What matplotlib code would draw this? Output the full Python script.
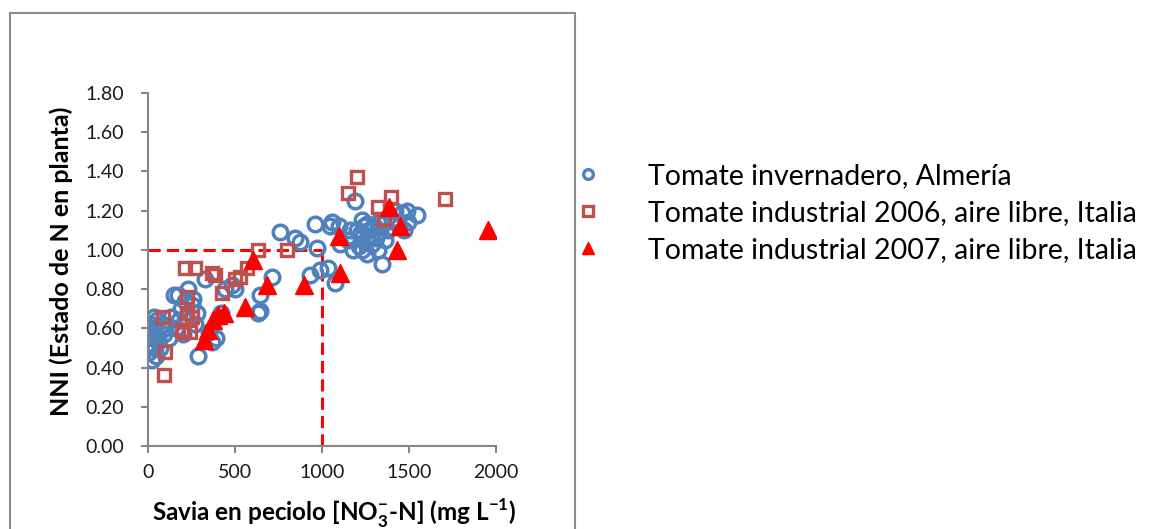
import matplotlib
matplotlib.use("Agg")
import matplotlib.pyplot as plt
from matplotlib.lines import Line2D
from matplotlib.patches import Rectangle

plt.rcParams['font.family'] = ['Lato', 'DejaVu Sans']
plt.rcParams['mathtext.fontset'] = 'custom'
plt.rcParams['mathtext.rm'] = 'Lato:bold'
plt.rcParams['mathtext.bf'] = 'Lato:bold'

# Tomate invernadero, Almeria
alm_x = [5, 10, 15, 20, 25, 30, 35, 40, 45, 50, 60, 70, 80, 90, 20, 40, 100, 120,
         130, 150, 160, 170, 180, 190, 200, 210, 220, 230, 250, 260, 270, 280, 290,
         330, 350, 370, 390, 420, 440, 480, 500,
         630, 645, 645, 711, 759, 845, 873, 932, 960, 970, 989, 1036, 1046, 1056, 1075, 1104,
         1100, 1150, 1160, 1180, 1190, 1200, 1210, 1220, 1230, 1230, 1240, 1250, 1260, 1260,
         1270, 1280, 1290, 1290, 1300, 1310, 1320, 1320, 1330, 1343, 1350, 1360, 1380, 1400,
         1420, 1440, 1458, 1470, 1487, 1496, 1544]
alm_y = [0.48, 0.62, 0.56, 0.52, 0.44, 0.60, 0.66, 0.58, 0.46, 0.64, 0.55, 0.50, 0.62, 0.57, 0.58, 0.50, 0.60, 0.55,
         0.66, 0.77, 0.60, 0.77, 0.64, 0.70, 0.57, 0.74, 0.66, 0.80, 0.72, 0.75, 0.62, 0.68, 0.46,
         0.85, 0.58, 0.53, 0.55, 0.68, 0.80, 0.82, 0.80,
         0.68, 0.77, 0.69, 0.86, 1.09, 1.06, 1.04, 0.87, 1.13, 1.01, 0.90, 0.91, 1.12, 1.14, 0.83, 1.03,
         1.12, 1.05, 1.10, 1.00, 1.25, 1.10, 1.02, 1.08, 1.00, 1.15, 1.12, 1.05, 0.98, 1.13,
         1.10, 1.07, 1.03, 1.11, 1.12, 1.06, 1.00, 1.14, 1.09, 0.93, 1.13, 1.05, 1.10, 1.15,
         1.20, 1.12, 1.19, 1.10, 1.20, 1.14, 1.18]

# Tomate industrial 2006, aire libre, Italia
it06_x = [94, 99, 88, 194, 203, 222, 222, 241, 252, 213, 270, 366, 385, 424, 502, 529, 567,
          630, 797, 1152, 1199, 1324, 1354, 1398, 1705]
it06_y = [0.36, 0.48, 0.66, 0.59, 0.58, 0.68, 0.76, 0.58, 0.66, 0.91, 0.91, 0.88, 0.87, 0.78, 0.85, 0.86, 0.91,
          1.00, 1.00, 1.29, 1.37, 1.22, 1.16, 1.27, 1.26]

# Tomate industrial 2007, aire libre, Italia
it07_x = [320, 347, 376, 405, 434, 559, 606, 683, 894, 1098, 1105, 1387, 1430, 1450, 1953]
it07_y = [0.54, 0.59, 0.64, 0.67, 0.68, 0.71, 0.95, 0.82, 0.82, 1.07, 0.88, 1.22, 1.00, 1.12, 1.10]

labels = ["Tomate invernadero, Almería",
          "Tomate industrial 2006, aire libre, Italia",
          "Tomate industrial 2007, aire libre, Italia"]

blue = '#4F81BD'
brown = '#C0504D'
red = '#FF0000'
grey = '#868686'

fig = plt.figure(figsize=(11.5, 5.29), dpi=100)
fig.patches.append(Rectangle((10/1150, -0.05), 565/1150, 1.05 - 13/529,
                             transform=fig.transFigure, fill=False,
                             edgecolor='#8C8C8C', linewidth=1.5))
ax = fig.add_axes([148/1150, 1 - 446/529, (496 - 148)/1150, (446 - 93)/529])

# reference lines at NNI = 1 and 1000 mg/L
ax.plot([0, 1000], [1.0, 1.0], color=red, ls=(0, (4, 2)), lw=2.2, zorder=1)
ax.plot([1000, 1000], [0, 1.0], color=red, ls=(0, (4, 2)), lw=2.2, zorder=1)

ax.plot(alm_x, alm_y, 'o', ms=10.5, mfc='none', mec=blue, mew=2.5, zorder=2)
ax.plot(it06_x, it06_y, 's', ms=8.5, mfc='none', mec=brown, mew=2.4, zorder=3)
ax.plot(it07_x, it07_y, '^', ms=12.5, color=red, mec=red, zorder=4)

ax.set_xlim(0, 2000)
ax.set_ylim(0, 1.8)
ax.set_xticks([0, 500, 1000, 1500, 2000])
ax.set_yticks([i * 0.2 for i in range(10)])
ax.set_yticklabels([f"{i * 0.2:.2f}" for i in range(10)])
for s in ['top', 'right']:
    ax.spines[s].set_visible(False)
for s in ['left', 'bottom']:
    ax.spines[s].set_color(grey)
    ax.spines[s].set_linewidth(1.5)
ax.tick_params(axis='both', colors=grey, labelcolor='#1a1a1a', labelsize=14, length=5, width=1.5, direction='out')
ax.tick_params(axis='y', pad=12)
ax.tick_params(axis='x', pad=8)
ax.set_ylabel("NNI (Estado de N en planta)", fontsize=18, fontweight='bold')
ax.set_xlabel(r"Savia en peciolo [NO$_{3}^{-}$-N] (mg L$^{-1}$)", fontsize=17.5,
              fontweight='bold')
ax.yaxis.set_label_coords(-0.215, 0.524)
ax.xaxis.set_label_coords(0.534, -0.142)

handles = [Line2D([], [], ls='none', marker='o', ms=7, mfc='none', mec=blue, mew=2.4),
           Line2D([], [], ls='none', marker='s', ms=7, mfc='none', mec=brown, mew=2.4),
           Line2D([], [], ls='none', marker='^', ms=8.5, color=red)]
fig.legend(handles, labels, loc='center left', bbox_to_anchor=(567/1150, 1 - 213/529),
           frameon=False, fontsize=20.5, handletextpad=1.4, labelspacing=0.4,
           handlelength=1.45, borderpad=0, borderaxespad=0)

fig.savefig("out.png", dpi=100)
